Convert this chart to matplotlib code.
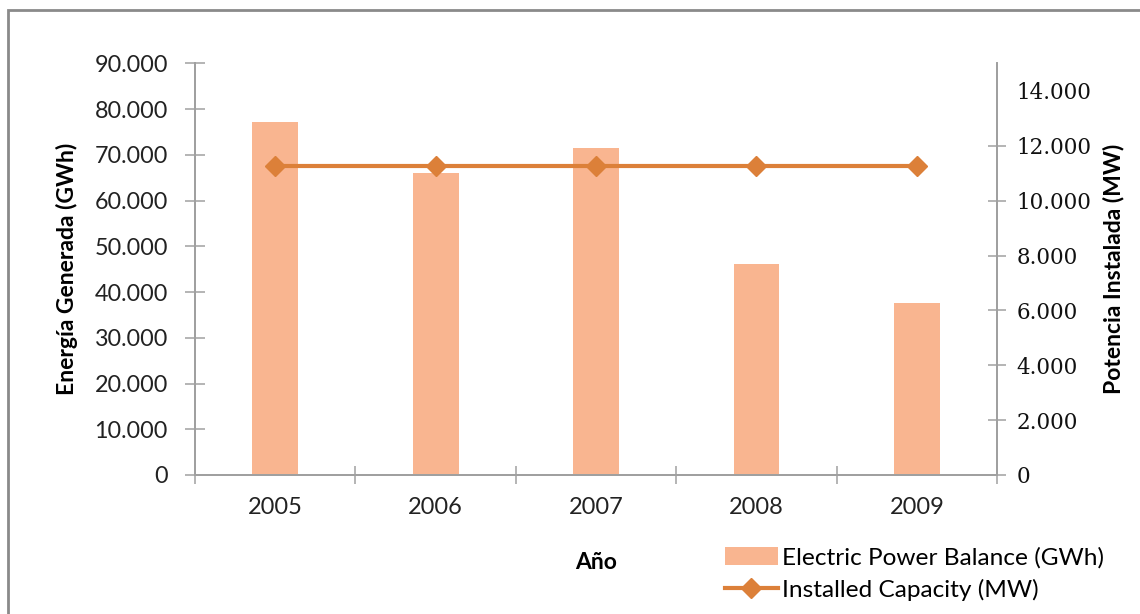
import matplotlib
matplotlib.use("Agg")
import matplotlib.pyplot as plt
from matplotlib.patches import Rectangle
from matplotlib.ticker import FuncFormatter, FixedLocator
import numpy as np

years = ["2005", "2006", "2007", "2008", "2009"]
energy_gwh = [77100, 66000, 71600, 46100, 37600]
capacity_mw = [11270, 11270, 11270, 11270, 11270]

bar_color = "#F9B590"
line_color = "#DC8039"
axis_gray = "#A0A0A0"
sans = "Lato"
serif = "DejaVu Serif"


def thousands(v, _pos=None):
    v = int(round(v))
    return "0" if v == 0 else f"{v:,}".replace(",", ".")


fig = plt.figure(figsize=(11.4, 6.14), dpi=100)
ax = fig.add_axes([0.1711, 0.2264, 0.7035, 0.6702])
ax2 = ax.twinx()

x = np.arange(len(years))
bars = ax.bar(x, energy_gwh, width=0.285, color=bar_color, zorder=2,
              label="Electric Power Balance (GWh)")
line, = ax2.plot(x, capacity_mw, color=line_color, lw=3, marker="D", ms=10,
                 label="Installed Capacity (MW)")

ax.set_xlim(-0.5, len(years) - 0.5)
ax.set_ylim(0, 90000)
ax2.set_ylim(0, 15000)

ax.set_yticks(np.arange(0, 90001, 10000))
ax.yaxis.set_major_formatter(FuncFormatter(thousands))
ax2.set_yticks(np.arange(0, 14001, 2000))
ax2.yaxis.set_major_formatter(FuncFormatter(thousands))

ax.set_xticks(x)
ax.set_xticklabels(years)
ax.xaxis.set_minor_locator(FixedLocator(np.arange(-0.5, len(years), 1.0)))

for a in (ax, ax2):
    a.spines["top"].set_visible(False)
    for side in ("left", "right", "bottom"):
        a.spines[side].set_color(axis_gray)
        a.spines[side].set_linewidth(1.3)

ax.tick_params(axis="y", direction="inout", length=14, width=1.1, color=axis_gray,
               pad=12.5, labelsize=16.8, labelcolor="#222222")
ax.tick_params(axis="x", which="major", length=0, pad=16, labelsize=17,
               labelcolor="#222222")
ax.tick_params(axis="x", which="minor", direction="inout", length=13, width=1.1,
               color=axis_gray)
ax2.tick_params(axis="y", direction="inout", length=13, width=1.1, color=axis_gray,
                pad=7.5, labelsize=15.5, labelcolor="#111111")
for lab in ax.get_yticklabels() + ax.get_xticklabels():
    lab.set_family(sans)
for lab in ax2.get_yticklabels():
    lab.set_family(serif)
ax2.yaxis.get_major_ticks()[-1].tick2line.set_visible(False)

ax.set_ylabel("Energía Generada (GWh)", family=sans, fontsize=16.5, fontweight="bold",
              labelpad=12)
ax2.set_ylabel("Potencia Instalada (MW)", family=sans, fontsize=16.5, fontweight="bold",
               rotation=90, labelpad=8)
ax.set_xlabel("Año", family=sans, fontsize=16.5, fontweight="bold", labelpad=24)

fig.legend(handles=[bars, line], loc="upper left",
           bbox_to_anchor=(725 / 1140, 1 - 547 / 614), frameon=False,
           prop={"family": sans, "size": 17.6}, handlelength=2.15,
           handletextpad=0.2, labelspacing=0.42, borderpad=0, borderaxespad=0)

fig.add_artist(Rectangle((8 / 1140, -0.2), 1.5, 1 - 10 / 614 + 0.2,
                         transform=fig.transFigure, fill=False,
                         edgecolor="#8A8A8A", lw=2))

fig.savefig("out.png", dpi=100)
